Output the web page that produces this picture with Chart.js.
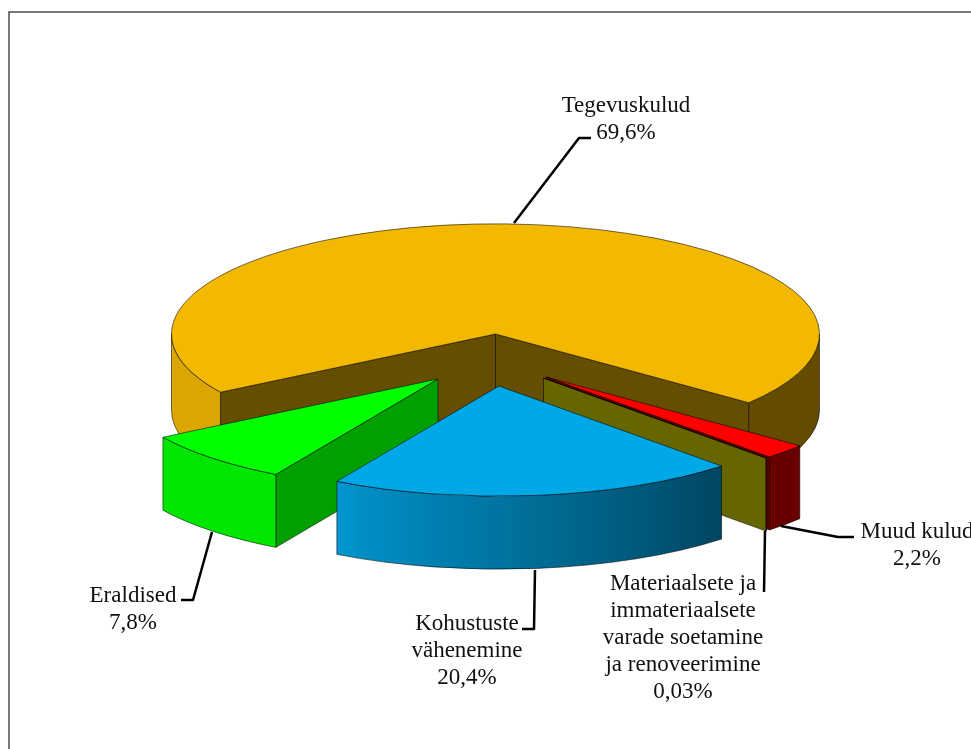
<!DOCTYPE html>
<html>
<head>
<meta charset="utf-8">
<title>Kulud</title>
<script src="https://cdn.jsdelivr.net/npm/chart.js@4"></script>
<style>
  html, body { margin: 0; padding: 0; background: #fff; overflow: hidden; }
  canvas { display: block; }
</style>
</head>
<body>
<canvas id="myChart" width="971" height="749"></canvas>
<script>
const categories = ['Tegevuskulud', 'Muud kulud', 'Materiaalsete ja immateriaalsete varade soetamine ja renoveerimine', 'Kohustuste vähenemine', 'Eraldised'];
const shares = [69.6, 2.2, 0.03, 20.4, 7.8];

const labelLines = [
  ['Tegevuskulud'],
  ['Muud kulud'],
  ['Materiaalsete ja', 'immateriaalsete', 'varade soetamine', 'ja renoveerimine'],
  ['Kohustuste', 'vähenemine'],
  ['Eraldised']
];

const topColors = ['#f3b800', '#ff0000', '#7d7d00', '#00a8e8', '#00ff00'];
const faceColors = ['#664e00', '#660000', '#666600', '#004060', '#00a000'];

// how far each slice is pulled out of the pie, on screen
const pullOut = [[0, 0], [51, 43], [48, 44], [3.5, 52], [-57.5, 45]];
const depths = [76, 73, 73, 73, 73];
const drawOrder = [0, 1, 2, 4, 3];

// label centre x, first line y, leader line
const labelPlace = [
  { x: 626, y: 106, leader: [[514, 223], [579, 138], [591, 138]] },
  { x: 917, y: 532, leader: [[781, 526], [838, 537], [854, 537]] },
  { x: 683, y: 584, leader: [[765, 531], [764, 592]] },
  { x: 467, y: 624, leader: [[535, 570], [534, 629], [522, 629]] },
  { x: 133, y: 596, leader: [[212, 532], [193, 600], [181, 600]] }
];
const lineGap = 27;

const squash = 0.34;
const edgeColor = 'rgba(0,0,0,0.55)';

function hexToRgb(hex) {
  return [1, 3, 5].map(i => parseInt(hex.substr(i, 2), 16));
}

// light falling on the outer wall, depends on where it faces
function wallLight(angle) {
  const deg = angle * 180 / Math.PI % 360;
  if (deg < 46) return 0.41;
  if (deg < 120) return 0.41 + (deg - 46) / 74 * 0.47;
  return 0.9;
}

function wallGradient(ctx, cx, r, a, b, color) {
  const left = cx + r * Math.cos(b);
  const right = cx + r * Math.cos(a);
  const grad = ctx.createLinearGradient(left, 0, right, 0);
  const rgb = hexToRgb(color);
  for (let i = 0; i <= 16; i++) {
    const t = b + (a - b) * i / 16;
    const light = wallLight(t);
    const stop = Math.min(1, Math.max(0, (cx + r * Math.cos(t) - left) / (right - left || 1)));
    grad.addColorStop(stop, `rgb(${rgb.map(v => Math.round(v * light)).join(',')})`);
  }
  return grad;
}

function drawOuterWall(ctx, cx, cy, r, a, b, depth, color) {
  const ranges = [[0, Math.PI], [2 * Math.PI, 3 * Math.PI]];
  ranges.forEach(range => {
    const from = Math.max(a, range[0]);
    const to = Math.min(b, range[1]);
    if (to <= from) return;
    ctx.beginPath();
    ctx.ellipse(cx, cy, r, r * squash, 0, from, to);
    ctx.ellipse(cx, cy + depth, r, r * squash, 0, to, from, true);
    ctx.closePath();
    ctx.fillStyle = wallGradient(ctx, cx, r, from, to, color);
    ctx.fill();
    ctx.strokeStyle = edgeColor;
    ctx.lineWidth = 1;
    ctx.stroke();
  });
}

function drawCutFace(ctx, cx, cy, r, angle, depth, color) {
  const x = cx + r * Math.cos(angle);
  const y = cy + r * squash * Math.sin(angle);
  ctx.beginPath();
  ctx.moveTo(cx, cy);
  ctx.lineTo(x, y);
  ctx.lineTo(x, y + depth);
  ctx.lineTo(cx, cy + depth);
  ctx.closePath();
  ctx.fillStyle = color;
  ctx.fill();
  ctx.strokeStyle = edgeColor;
  ctx.lineWidth = 1;
  ctx.stroke();
}

const pie3d = {
  id: 'pie3d',
  beforeDatasetDraw(chart) {
    const ctx = chart.ctx;
    const arcs = chart.getDatasetMeta(0).data;
    drawOrder.forEach(i => {
      const arc = arcs[i];
      const a = arc.startAngle;
      const b = arc.endAngle;
      const r = arc.outerRadius;
      const cx = arc.x + pullOut[i][0];
      const cy = arc.y + pullOut[i][1];

      // cut faces turned towards the viewer
      if (Math.sin(a - Math.PI / 2) > 0) drawCutFace(ctx, cx, cy, r, a, depths[i], faceColors[i]);
      if (Math.sin(b + Math.PI / 2) > 0) drawCutFace(ctx, cx, cy, r, b, depths[i], faceColors[i]);
      drawOuterWall(ctx, cx, cy, r, a, b, depths[i], topColors[i]);

      // top of the slice is the library's own arc, flattened
      ctx.save();
      ctx.translate(cx, cy);
      ctx.scale(1, squash);
      ctx.translate(-arc.x, -arc.y);
      arc.draw(ctx);
      ctx.restore();

      ctx.beginPath();
      ctx.moveTo(cx, cy);
      ctx.ellipse(cx, cy, r, r * squash, 0, a, b);
      ctx.closePath();
      ctx.strokeStyle = edgeColor;
      ctx.lineWidth = 1;
      ctx.stroke();
    });
    return false;
  },
  afterDraw(chart) {
    const ctx = chart.ctx;
    // frame, only top and left are inside the picture
    ctx.strokeStyle = '#4d4d4d';
    ctx.lineWidth = 1.5;
    ctx.beginPath();
    ctx.moveTo(9, 749);
    ctx.lineTo(9, 12);
    ctx.lineTo(971, 12);
    ctx.stroke();

    ctx.font = '23px "Liberation Serif"';
    ctx.textAlign = 'center';
    ctx.textBaseline = 'middle';
    categories.forEach((name, i) => {
      const place = labelPlace[i];
      ctx.strokeStyle = '#000';
      ctx.lineWidth = 2.5;
      ctx.lineJoin = 'round';
      ctx.beginPath();
      place.leader.forEach((p, k) => k ? ctx.lineTo(p[0], p[1]) : ctx.moveTo(p[0], p[1]));
      ctx.stroke();

      const lines = labelLines[i].concat(String(shares[i]).replace('.', ',') + '%');
      ctx.fillStyle = '#111';
      lines.forEach((line, k) => ctx.fillText(line, place.x, place.y + k * lineGap));
    });
  }
};

new Chart(document.getElementById('myChart'), {
  type: 'pie',
  data: {
    labels: categories,
    datasets: [{
      data: shares,
      backgroundColor: topColors,
      borderWidth: 0
    }]
  },
  options: {
    responsive: false,
    animation: false,
    rotation: 238.1,
    radius: 324,
    layout: { padding: { left: 20, bottom: 81 } },
    plugins: {
      legend: { display: false },
      tooltip: { enabled: false }
    }
  },
  plugins: [pie3d]
});
</script>
</body>
</html>
